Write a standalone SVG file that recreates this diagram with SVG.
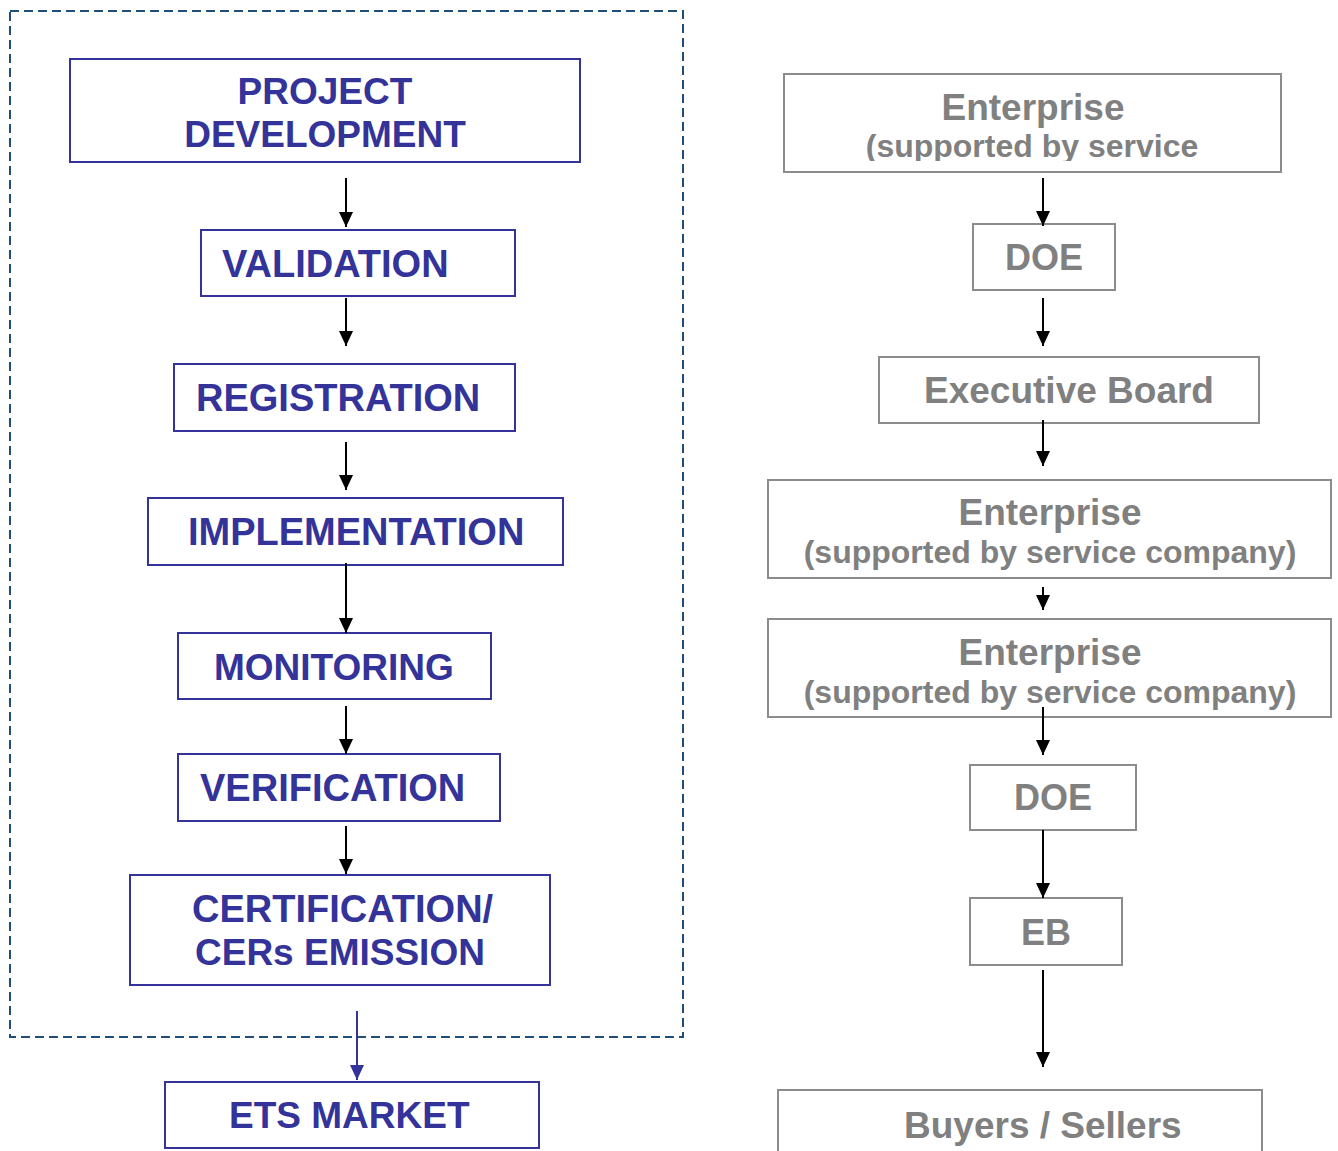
<svg xmlns="http://www.w3.org/2000/svg" width="1338" height="1151" viewBox="0 0 1338 1151">
  <style>
    .bbox { fill: #ffffff; stroke: #333399; stroke-width: 2; }
    .gbox { fill: #ffffff; stroke: #8c8c8c; stroke-width: 2; }
    .btxt { font-family: "Liberation Sans", Arial, sans-serif; font-weight: bold; font-size: 37px; fill: #333399; }
    .wide { font-size: 38px; }
    .gtxt { font-family: "Liberation Sans", Arial, sans-serif; font-weight: bold; font-size: 37px; fill: #808080; }
    .gsub { font-family: "Liberation Sans", Arial, sans-serif; font-weight: bold; font-size: 32px; fill: #808080; }
    .conn { stroke: #000000; stroke-width: 2; fill: none; marker-end: url(#head); }
    .conn-blue { stroke: #333399; stroke-width: 2; fill: none; marker-end: url(#headBlue); }
    .frame { fill: none; stroke: #1f4e79; stroke-width: 2; stroke-dasharray: 9 5; }
  </style>
  <defs>
    <marker id="head" markerUnits="userSpaceOnUse" markerWidth="16" markerHeight="15" refX="15" refY="7" orient="auto">
      <path d="M0,0 L15,7 L0,14 z" fill="#000000"/>
    </marker>
    <marker id="headBlue" markerUnits="userSpaceOnUse" markerWidth="16" markerHeight="15" refX="15" refY="7" orient="auto">
      <path d="M0,0 L15,7 L0,14 z" fill="#333399"/>
    </marker>
    <clipPath id="cut1">
      <rect x="780" y="70" width="510" height="91"/>
    </clipPath>
  </defs>

  <rect width="1338" height="1151" fill="#ffffff"/>

  <!-- dashed frame around the project cycle -->
  <rect class="frame" x="10" y="11" width="673" height="1026"/>

  <!-- project cycle (left column) -->
  <g id="project-development">
    <rect class="bbox" x="70" y="59" width="510" height="103"/>
    <text class="btxt" x="325" y="104" text-anchor="middle">PROJECT</text>
    <text class="btxt" x="325" y="147" text-anchor="middle">DEVELOPMENT</text>
  </g>
  <g id="validation">
    <rect class="bbox" x="201" y="230" width="314" height="66"/>
    <text class="btxt wide" x="222" y="277">VALIDATION</text>
  </g>
  <g id="registration">
    <rect class="bbox" x="174" y="364" width="341" height="67"/>
    <text class="btxt wide" x="196" y="411">REGISTRATION</text>
  </g>
  <g id="implementation">
    <rect class="bbox" x="148" y="498" width="415" height="67"/>
    <text class="btxt wide" x="188" y="545">IMPLEMENTATION</text>
  </g>
  <g id="monitoring">
    <rect class="bbox" x="178" y="633" width="313" height="66"/>
    <text class="btxt" x="214" y="680">MONITORING</text>
  </g>
  <g id="verification">
    <rect class="bbox" x="178" y="754" width="322" height="67"/>
    <text class="btxt wide" x="200" y="801">VERIFICATION</text>
  </g>
  <g id="certification">
    <rect class="bbox" x="130" y="875" width="420" height="110"/>
    <text class="btxt wide" x="192" y="922">CERTIFICATION/</text>
    <text class="btxt" x="195" y="965">CERs EMISSION</text>
  </g>
  <g id="ets-market">
    <rect class="bbox" x="165" y="1082" width="374" height="66"/>
    <text class="btxt" x="229" y="1128">ETS MARKET</text>
  </g>

  <!-- actors (right column) -->
  <g id="enterprise-1">
    <rect class="gbox" x="784" y="74" width="497" height="98"/>
    <text class="gtxt" x="1033" y="120" text-anchor="middle">Enterprise</text>
    <text class="gsub" x="1032" y="157" text-anchor="middle" clip-path="url(#cut1)">(supported by service</text>
  </g>
  <g id="doe-1">
    <rect class="gbox" x="973" y="224" width="142" height="66"/>
    <text class="gtxt" x="1044" y="270" text-anchor="middle" style="font-size:36px">DOE</text>
  </g>
  <g id="executive-board">
    <rect class="gbox" x="879" y="357" width="380" height="66"/>
    <text class="gtxt" x="1069" y="403" text-anchor="middle">Executive Board</text>
  </g>
  <g id="enterprise-2">
    <rect class="gbox" x="768" y="480" width="563" height="98"/>
    <text class="gtxt" x="1050" y="525" text-anchor="middle">Enterprise</text>
    <text class="gsub" x="1050" y="563" text-anchor="middle">(supported by service company)</text>
  </g>
  <g id="enterprise-3">
    <rect class="gbox" x="768" y="619" width="563" height="98"/>
    <text class="gtxt" x="1050" y="665" text-anchor="middle">Enterprise</text>
    <text class="gsub" x="1050" y="703" text-anchor="middle">(supported by service company)</text>
  </g>
  <g id="doe-2">
    <rect class="gbox" x="970" y="765" width="166" height="65"/>
    <text class="gtxt" x="1053" y="810" text-anchor="middle" style="font-size:36px">DOE</text>
  </g>
  <g id="eb">
    <rect class="gbox" x="970" y="898" width="152" height="67"/>
    <text class="gtxt" x="1046" y="945" text-anchor="middle" style="font-size:36px">EB</text>
  </g>
  <g id="buyers-sellers">
    <rect class="gbox" x="778" y="1090" width="484" height="80"/>
    <text class="gtxt" x="904" y="1138">Buyers / Sellers</text>
  </g>

  <!-- connectors -->
  <g id="connectors">
    <line class="conn" x1="346" y1="178" x2="346" y2="227"/>
    <line class="conn" x1="346" y1="298" x2="346" y2="346"/>
    <line class="conn" x1="346" y1="442" x2="346" y2="490"/>
    <line class="conn" x1="346" y1="563" x2="346" y2="633"/>
    <line class="conn" x1="346" y1="706" x2="346" y2="754"/>
    <line class="conn" x1="346" y1="826" x2="346" y2="874"/>
    <line class="conn-blue" x1="357" y1="1011" x2="357" y2="1080"/>

    <line class="conn" x1="1043" y1="178" x2="1043" y2="226"/>
    <line class="conn" x1="1043" y1="298" x2="1043" y2="346"/>
    <line class="conn" x1="1043" y1="420" x2="1043" y2="466"/>
    <line class="conn" x1="1043" y1="587" x2="1043" y2="610"/>
    <line class="conn" x1="1043" y1="707" x2="1043" y2="755"/>
    <line class="conn" x1="1043" y1="830" x2="1043" y2="898"/>
    <line class="conn" x1="1043" y1="970" x2="1043" y2="1067"/>
  </g>
</svg>
